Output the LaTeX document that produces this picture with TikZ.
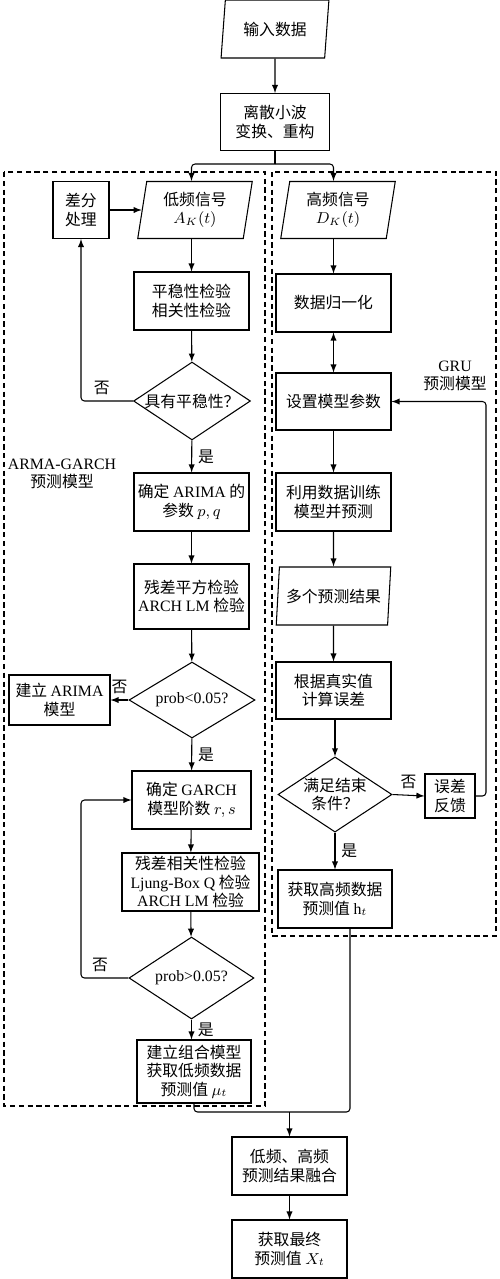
\documentclass[tikz,border=0pt]{standalone}
\usepackage{fontspec}
\setmainfont{Liberation Serif}
\newfontfamily\cjk{Noto Sans CJK SC}
\usetikzlibrary{shapes.geometric}
\newcommand{\en}[1]{{\rmfamily #1}}

\tikzset{
  box/.style={draw, rectangle, line width=0.6pt, minimum width=2.3cm, minimum height=1.16cm, inner sep=1pt, align=center},
  io/.style={draw, trapezium, trapezium left angle=81, trapezium right angle=99, trapezium stretches=true,
    line width=0.6pt, minimum width=2.3cm, minimum height=1.16cm, inner sep=1pt, align=center},
  decide/.style={draw, diamond, aspect=1.5, line width=0.6pt, inner sep=0pt, align=center},
  group/.style={draw, dash pattern=on 3pt off 2pt, line width=0.6pt},
  flow/.style={->, line width=0.6pt},
  wire/.style={line width=0.6pt}
}

\begin{document}
\begin{tikzpicture}[x=0.02cm, y=-0.02cm, >=latex, font=\cjk\fontsize{9}{10.5}\selectfont]
    % 1. Khung hình
    \useasboundingbox (0,0) rectangle (500,1279);

    % 2. Hai vùng nét đứt
    \draw[group] (4,172) rectangle (265,1106);
    \draw[group] (272,172) rectangle (496,936);
    \node[align=center] (armalbl) at (62,474) {\en{ARMA-GARCH}\\预测模型};
    \node[align=center] (grulbl) at (455,376) {\en{GRU}\\预测模型};

    % 3. Phần đầu
    \node[io, minimum width=2.16cm] (in) at (275,29) {输入数据};
    \node[box, minimum width=2.18cm, minimum height=1.14cm] (dwt) at (275,122) {离散小波\\变换、重构};
    \coordinate (split) at (275,164);

    % 4. Nhánh tần số thấp
    \node[box, minimum width=1.12cm, minimum height=1.14cm] (diff) at (81,210) {差分\\处理};
    \node[io, minimum height=1.14cm] (low) at (195,210) {低频信号\\$A_K(t)$};
    \node[box] (stat) at (191.5,301) {平稳性检验\\相关性检验};
    \node[decide, minimum width=2.28cm, minimum height=1.52cm] (stable) at (192,401) {具有平稳性？};
    \node[box] (arima) at (191.5,502) {确定 \en{ARIMA} 的\\参数 $p,q$};
    \node[box, minimum height=1.3cm] (resid) at (191.5,596.5) {残差平方检验\\\en{ARCH LM} 检验};
    \node[decide, minimum width=2.52cm, minimum height=1.52cm] (lt05) at (192,700) {\en{prob<0.05?}};
    \node[box, minimum width=2.02cm, minimum height=1cm] (buildarima) at (59.5,700) {建立 \en{ARIMA}\\模型};
    \node[box, minimum width=2.38cm] (garch) at (191.5,800) {确定 \en{GARCH}\\模型阶数 $r,s$};
    \node[box, minimum width=2.74cm] (corr) at (190.5,882) {残差相关性检验\\\en{Ljung-Box Q} 检验\\\en{ARCH LM} 检验};
    \node[decide, minimum width=2.5cm, minimum height=1.64cm] (gt05) at (191.5,978) {\en{prob>0.05?}};
    \node[box, minimum width=2.28cm, minimum height=1.26cm] (comb) at (194,1071.5) {建立组合模型\\获取低频数据\\预测值 $\mu_t$};

    % 5. Nhánh tần số cao
    \node[io, minimum height=1.14cm] (high) at (338,210) {高频信号\\$D_K(t)$};
    \node[box] (norm) at (333.5,303) {数据归一化};
    \node[box, minimum height=1.14cm] (setp) at (333.5,401.5) {设置模型参数};
    \node[box] (train) at (333.5,502) {利用数据训练\\模型并预测};
    \node[io] (multi) at (333.5,596) {多个预测结果};
    \node[box, minimum height=1.14cm] (err) at (333.5,690.5) {根据真实值\\计算误差};
    \node[decide, minimum width=2.28cm, minimum height=1.5cm] (stop) at (335,794.5) {满足结束\\条件？};
    \node[box, minimum width=1cm, minimum height=0.88cm] (fb) at (450,796) {误差\\反馈};
    \node[box, minimum width=2.28cm] (hfget) at (335,899) {获取高频数据\\预测值 \en{h}$_t$};

    % 6. Phần cuối
    \node[box] (fuse) at (289.5,1166) {低频、高频\\预测结果融合};
    \node[box] (final) at (289.5,1249) {获取最终\\预测值 $X_t$};

    % 7. Các mũi tên
    \draw[flow] (in) -- (dwt);
    \draw[wire] (dwt.south) -- (split);
    \draw[flow, rounded corners=2pt] (split) -| (stat.north |- low.north);
    \draw[flow, rounded corners=2pt] (split) -| (norm.north |- high.north);

    \draw[flow] (diff.east) -- (diff.east -| low.west);
    \draw[flow] (stat.north |- low.south) -- (stat.north);
    \draw[flow] (stat) -- (stable);
    \draw[flow, rounded corners=2pt] (stable.west) -| node[pos=0.3, above] {否} (diff.south);
    \draw[flow] (stable) -- node[right] {是} (arima);
    \draw[flow] (arima) -- (resid);
    \draw[flow] (resid) -- (lt05);
    \draw[flow] (lt05.west) -- node[above] {否} (buildarima.east);
    \draw[flow] (lt05) -- node[right] {是} (garch);
    \draw[flow] (garch) -- (corr);
    \draw[flow] (corr) -- (gt05);
    \draw[flow, rounded corners=2pt] (gt05.west) -| node[pos=0.3, above] {否} (diff.south |- garch.west) -- (garch.west);
    \draw[flow] (gt05.south) -- node[right] {是} (gt05.south |- comb.north);

    \draw[flow] (norm.north |- high.south) -- (norm.north);
    \draw[<->, line width=0.6pt] (norm) -- (setp);
    \draw[flow] (setp) -- (train);
    \draw[flow] (train) -- (multi);
    \draw[flow] (multi) -- (err);
    \draw[flow] (err.south -| stop.north) -- (stop.north);
    \draw[flow] (stop.east) -- node[above] {否} (fb.west);
    \coordinate (fbx) at (486,796);
    \draw[flow, rounded corners=2pt] (fb.east) -- (fbx) |- (setp.east);
    \draw[flow] (stop) -- node[right] {是} (hfget);

    \coordinate (mrg) at (289.5,1112);
    \coordinate (hfout) at ([xshift=0.3cm]hfget.south);
    \draw[wire, rounded corners=2pt] (comb.south) |- (hfout |- mrg) -- (hfout);
    \draw[flow] (mrg) -- (fuse);
    \draw[flow] (fuse) -- (final);
\end{tikzpicture}
\end{document}
